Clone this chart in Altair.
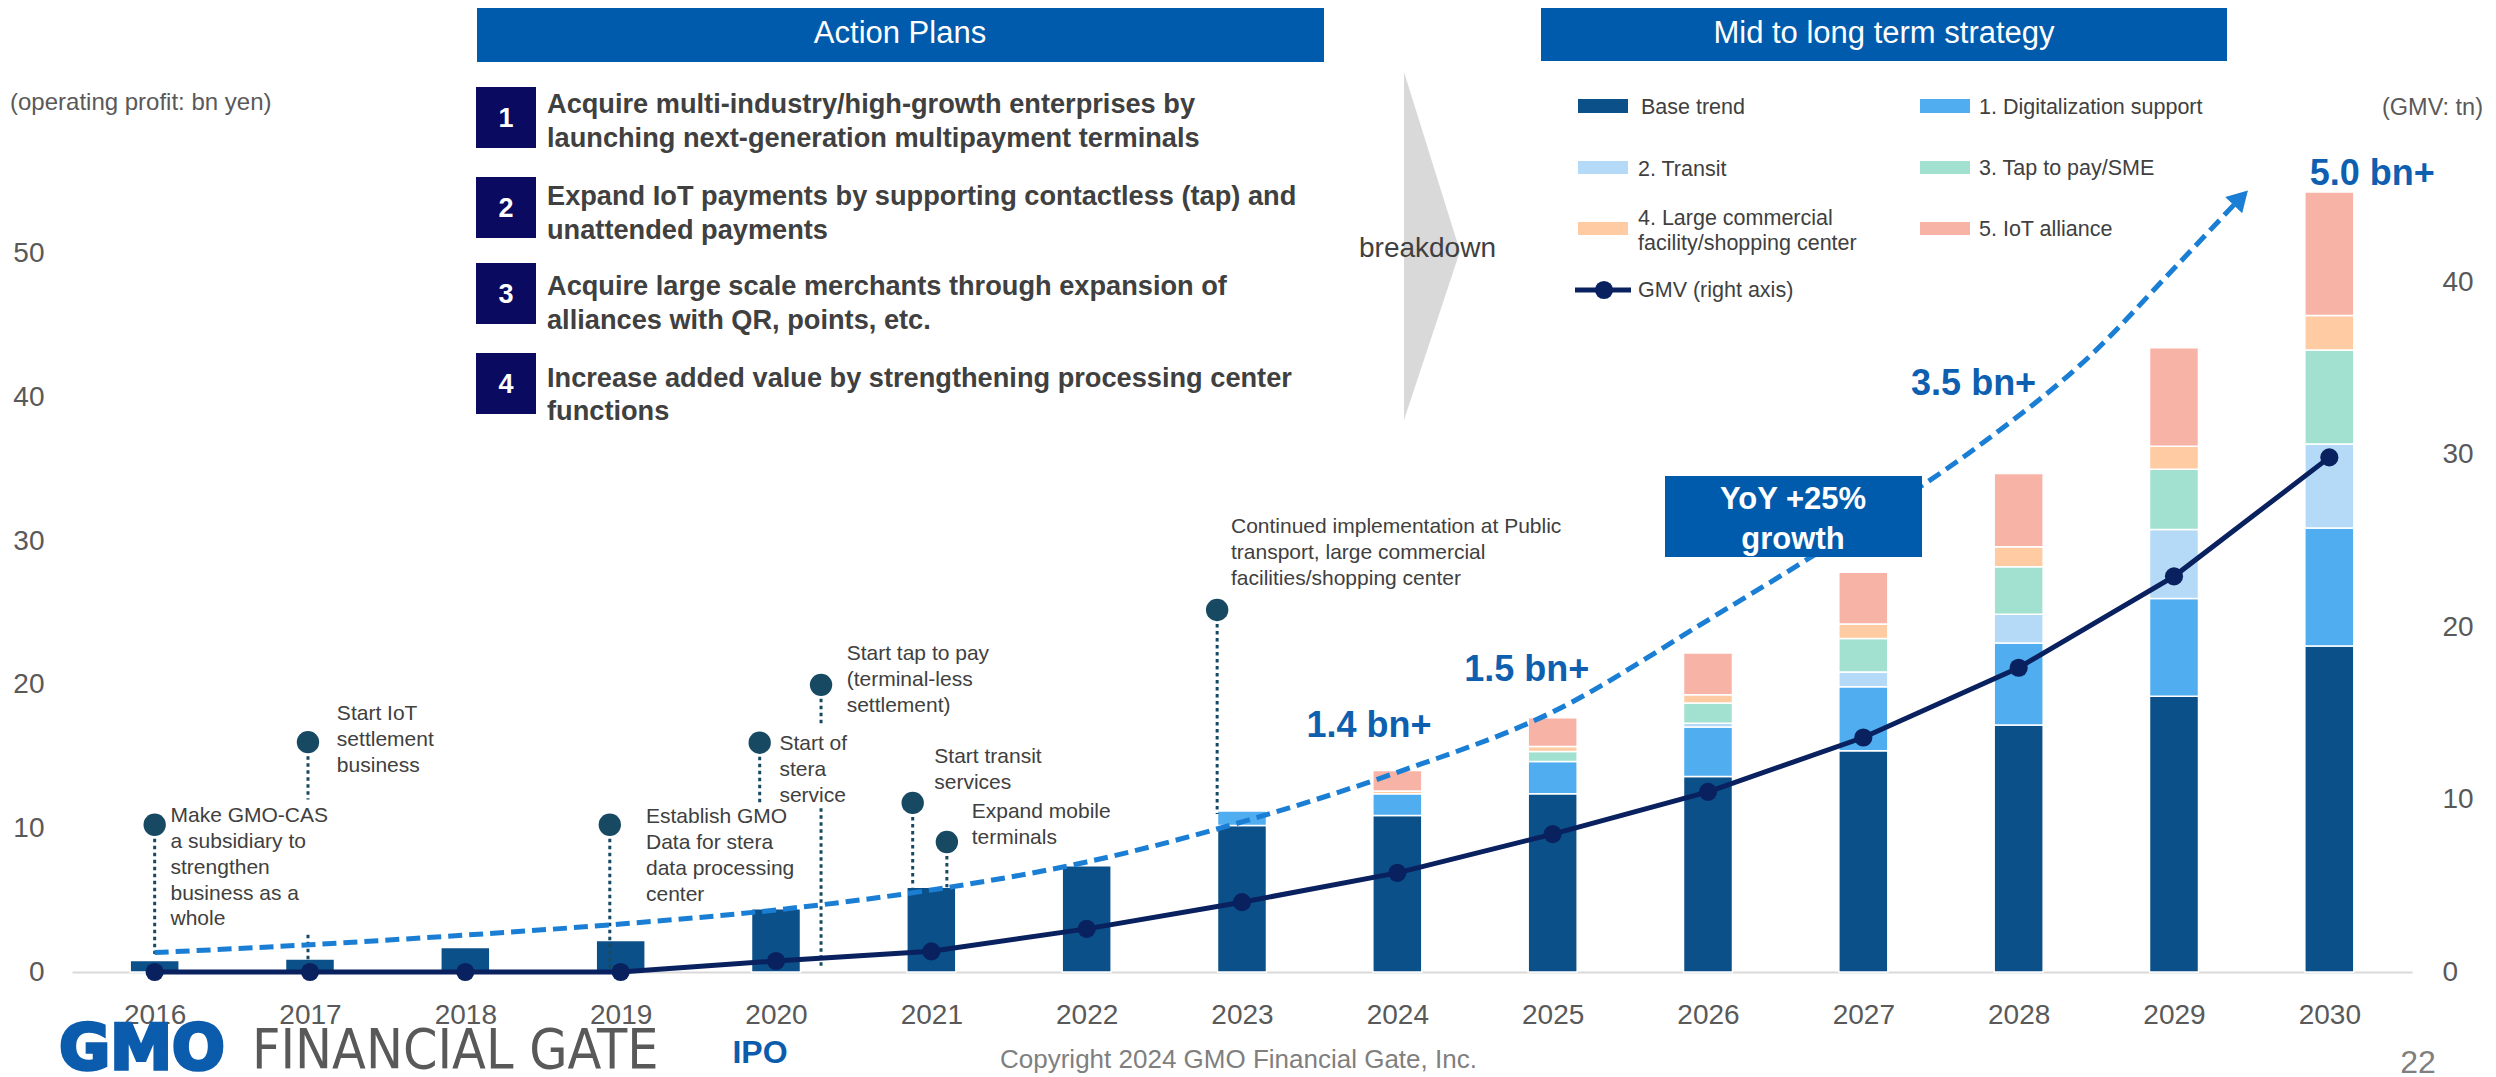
import altair as alt
import pandas as pd

# ---------------- data ----------------
years = list(range(2016, 2031))
segments = ["Base trend", "1. Digitalization support", "2. Transit", "3. Tap to pay/SME",
            "4. Large commercial facility/shopping center", "5. IoT alliance"]
base_trend       = [0.8, 0.9, 1.7, 2.2, 4.4, 5.9, 7.4, 10.2, 10.9, 12.4, 13.6, 15.4, 17.2, 19.2, 22.7]
digitalization   = [0, 0, 0, 0, 0, 0, 0, 1.0, 1.5, 2.25, 3.45, 4.45, 5.7, 6.8, 8.2]
transit          = [0, 0, 0, 0, 0, 0, 0, 0, 0, 0, 0.27, 1.04, 2.0, 4.8, 5.85]
tap_to_pay       = [0, 0, 0, 0, 0, 0, 0, 0, 0, 0.7, 1.4, 2.33, 3.3, 4.2, 6.55]
large_commercial = [0, 0, 0, 0, 0, 0, 0, 0, 0.2, 0.35, 0.58, 1.0, 1.4, 1.6, 2.4]
iot_alliance     = [0, 0, 0, 0, 0, 0, 0, 0, 1.43, 2.0, 2.9, 3.6, 5.1, 6.85, 8.6]
segment_values = [base_trend, digitalization, transit, tap_to_pay, large_commercial, iot_alliance]
segment_colors = ["#0B5088", "#4FADF0", "#B4DAF8", "#A2E1D0", "#FFCBA3", "#F8B3A7"]

gmv = [0, 0, 0, 0, 0.64, 1.2, 2.5, 4.05, 5.75, 8.0, 10.45, 13.6, 17.65, 22.95, 29.85]

left_ticks = [0, 10, 20, 30, 40, 50]
right_ticks = [0, 10, 20, 30, 40]

trend_years = [2016, 2017, 2018, 2019, 2020, 2021, 2022, 2023, 2024, 2025, 2026, 2027,
               2027.74, 2028.5, 2028.95, 2029.386]
trend_values = [1.35, 1.9, 2.57, 3.34, 4.32, 5.71, 7.66, 10.45, 13.9, 18.1, 24.5, 31.2,
                36.6, 43.3, 48.4, 53.4]
arrow_year = [2029.43]
arrow_value = [53.89]

growth_labels = ["1.4 bn+", "1.5 bn+", "3.5 bn+", "5.0 bn+"]
growth_years = [2023.817, 2024.833, 2027.71, 2030.276]
growth_values = [17.1, 21.0, 40.9, 55.55]

pin_years = [2016.0, 2016.987, 2018.93, 2019.895, 2020.29, 2020.88, 2021.10, 2022.84]
pin_values = [10.25, 16.0, 10.25, 15.96, 19.99, 11.77, 9.05, 25.2]
pin_texts = [
    "Make GMO-CAS\na subsidiary to\nstrengthen\nbusiness as a\nwhole",
    "Start IoT\nsettlement\nbusiness",
    "Establish GMO\nData for stera\ndata processing\ncenter",
    "Start of\nstera\nservice",
    "Start tap to pay\n(terminal-less\nsettlement)",
    "Start transit\nservices",
    "Expand mobile\nterminals",
    "Continued implementation at Public\ntransport, large commercial\nfacilities/shopping center",
]
pin_text_years = [2016.102, 2017.173, 2019.163, 2020.022, 2020.455, 2021.019, 2021.26, 2022.929]
pin_text_values = [11.59, 18.70, 11.52, 16.61, 22.88, 15.72, 11.91, 31.72]
stem_years = [2016.0, 2016.987, 2016.987, 2018.93, 2019.895, 2020.29, 2020.29, 2020.88, 2021.10, 2022.84]
stem_top = [10.25, 16.0, 2.6, 10.25, 15.96, 19.99, 11.4, 11.77, 9.05, 25.2]
stem_bottom = [1.25, 12.0, 0.1, 0.1, 11.8, 17.1, 0.3, 5.9, 5.9, 11.0]

action_numbers = ["1", "2", "3", "4"]
action_lines = [
    ["Acquire multi-industry/high-growth enterprises by", "launching next-generation multipayment terminals"],
    ["Expand IoT payments by supporting contactless (tap) and", "unattended payments"],
    ["Acquire large scale merchants through expansion of", "alliances with QR, points, etc."],
    ["Increase added value by strengthening processing center", "functions"],
]

# ---------------- layout / style ----------------
FONT = "Liberation Sans"
NAVY = "#0A2160"
PIN = "#174A62"
CURVE = "#1A7FD4"
HEADER = "#005BAC"
BN = "#0E5FB0"
NUMBOX = "#0A0A60"
TXT = "#404040"
GREY = "#595959"
LOGO = "#0B5CAD"

OX, OY = 72, 110          # page position of the plot origin
W, H = 2340, 862


def px(X):
    return X - OX


def py(Y):
    return Y - OY


one = pd.DataFrame({"k": [0]})


def box(X1, Y1, X2, Y2, color):
    return alt.Chart(one).mark_rect(color=color).encode(
        x=alt.value(px(X1)), x2=alt.value(px(X2)), y=alt.value(py(Y1)), y2=alt.value(py(Y2)))


def label(X, Y, text, size, color=TXT, weight="normal", align="left", baseline="middle",
          font=FONT, line_height=None, stroke_width=0):
    kw = dict(text=text, fontSize=size, color=color, fontWeight=weight, align=align,
              baseline=baseline, font=font)
    if line_height:
        kw["lineHeight"] = line_height
        kw["lineBreak"] = "\n"
    if stroke_width:
        kw["stroke"] = color
        kw["strokeWidth"] = stroke_width
    return alt.Chart(one).mark_text(**kw).encode(x=alt.value(px(X)), y=alt.value(py(Y)))


xscale = alt.Scale(domain=[2015.5, 2030.5], nice=False, zero=False)
lscale = alt.Scale(domain=[0, 60], nice=False, zero=True)
rscale = alt.Scale(domain=[0, 50], nice=False, zero=True)

xaxis = alt.Axis(values=years, format="d", title=None, grid=False, ticks=False, tickSize=0,
                 labelFontSize=28, labelFont=FONT, labelColor=GREY, labelPadding=29,
                 domainColor="#D9D9D9", domainWidth=2, labelFlush=False)
X = alt.X("year:Q", scale=xscale, axis=xaxis)

# ---------------- data tables ----------------
rows = []
for i, (name, vals) in enumerate(zip(segments, segment_values)):
    for yr, v in zip(years, vals):
        if v > 0:
            rows.append({"year": yr, "segment": name, "order": i, "value": v})
bars_df = pd.DataFrame(rows)
gmv_df = pd.DataFrame({"year": years, "gmv": gmv})
trend_df = pd.DataFrame({"year": trend_years, "val": trend_values})
arrow_df = pd.DataFrame({"year": arrow_year, "val": arrow_value})
growth_df = pd.DataFrame({"year": growth_years, "val": growth_values, "t": growth_labels})
pin_df = pd.DataFrame({"year": pin_years, "val": pin_values})
pintext_df = pd.DataFrame({"year": pin_text_years, "val": pin_text_values, "t": pin_texts})
stem_df = pd.DataFrame({"year": stem_years, "v1": stem_top, "v2": stem_bottom})

# ---------------- chart layers ----------------
bars = alt.Chart(bars_df).mark_bar(size=49, stroke="white", strokeWidth=1.5).encode(
    x=X,
    y=alt.Y("value:Q", stack="zero", scale=lscale,
            axis=alt.Axis(values=left_ticks, title=None, grid=False, ticks=False, domain=False,
                          labelFontSize=28, labelFont=FONT, labelColor=GREY, labelPadding=28)),
    color=alt.Color("segment:N", scale=alt.Scale(domain=segments, range=segment_colors), legend=None),
    order=alt.Order("order:Q", sort="ascending"),
)

stems = alt.Chart(stem_df).mark_rule(color=PIN, strokeWidth=3, strokeDash=[3.5, 3.5]).encode(
    x=X, y=alt.Y("v1:Q", scale=lscale, axis=None), y2="v2:Q")

trend = alt.Chart(trend_df).mark_line(color=CURVE, strokeWidth=5, strokeDash=[14, 7],
                                       interpolate="monotone").encode(
    x=X, y=alt.Y("val:Q", scale=lscale, axis=None))

arrow = alt.Chart(arrow_df).mark_point(shape="triangle-up", filled=True, size=560, angle=44,
                                        color=CURVE, opacity=1, strokeWidth=0).encode(
    x=X, y=alt.Y("val:Q", scale=lscale, axis=None))

gmv_line = alt.Chart(gmv_df).mark_line(color=NAVY, strokeWidth=5).encode(
    x=X,
    y=alt.Y("gmv:Q", scale=rscale,
            axis=alt.Axis(orient="right", values=right_ticks, title=None, grid=False, ticks=False,
                          domain=False, labelFontSize=28, labelFont=FONT, labelColor=GREY,
                          labelPadding=30)))
gmv_pts = alt.Chart(gmv_df).mark_circle(color=NAVY, size=330, opacity=1).encode(
    x=X, y=alt.Y("gmv:Q", scale=rscale, axis=None))

pins = alt.Chart(pin_df).mark_circle(color=PIN, size=500, opacity=1).encode(
    x=X, y=alt.Y("val:Q", scale=lscale, axis=None))
pin_labels = alt.Chart(pintext_df).mark_text(align="left", baseline="top", fontSize=21, font=FONT,
                                             color=TXT, lineBreak="\n", lineHeight=25.7).encode(
    x=X, y=alt.Y("val:Q", scale=lscale, axis=None), text="t:N")

growth = alt.Chart(growth_df).mark_text(align="center", baseline="middle", fontSize=36, font=FONT,
                                        fontWeight="bold", color=BN).encode(
    x=X, y=alt.Y("val:Q", scale=lscale, axis=None), text="t:N")

layers = [bars, stems, trend, arrow, gmv_line, gmv_pts, pins, pin_labels, growth]

# headers
layers += [box(477, 3, 1324, 62, HEADER), label(900, 34, "Action Plans", 31, "white", align="center"),
           box(1541, 3, 2227, 61, HEADER), label(1884, 34, "Mid to long term strategy", 31, "white", align="center")]

# action plan items
box_tops = [87, 177, 263, 353]
line_centers = [[103, 137], [195, 229], [285, 319], [377, 410]]
for n, top, lines, centers in zip(action_numbers, box_tops, action_lines, line_centers):
    layers.append(box(476, top, 536, top + 61, NUMBOX))
    layers.append(label(506, top + 32, n, 27, "white", weight="bold", align="center"))
    for ln, c in zip(lines, centers):
        layers.append(label(547, c + 1.5, ln, 27.2, TXT, weight="bold"))

# breakdown chevron
tri = alt.Chart(one).mark_point(shape="M-0.161,-1L0.161,0.03L-0.161,1Z", filled=True, size=121104,
                                color="#D9D9D9", opacity=1, strokeWidth=0).encode(
    x=alt.value(px(1432)), y=alt.value(py(246)))
layers += [tri, label(1359, 249, "breakdown", 28, TXT)]

# legend
sw = [(1578, 99, 1628, 113), (1920, 99, 1970, 113), (1578, 161, 1628, 174),
      (1920, 161, 1970, 174), (1578, 222, 1628, 235), (1920, 222, 1970, 235)]
for (a, b, c, d), col in zip(sw, segment_colors):
    layers.append(box(a, b, c, d, col))
layers += [
    label(1641, 108, "Base trend", 21.5, TXT),
    label(1979, 108, "1. Digitalization support", 21.5, TXT),
    label(1638, 170, "2. Transit", 21.5, TXT),
    label(1979, 169, "3. Tap to pay/SME", 21.5, TXT),
    label(1638, 219, "4. Large commercial\nfacility/shopping center", 21.5, TXT, line_height=25),
    label(1979, 230, "5. IoT alliance", 21.5, TXT),
    label(1638, 291, "GMV (right axis)", 21.5, TXT),
    alt.Chart(one).mark_rule(color=NAVY, strokeWidth=5).encode(
        x=alt.value(px(1575)), x2=alt.value(px(1631)), y=alt.value(py(290))),
    alt.Chart(one).mark_circle(color=NAVY, size=330, opacity=1).encode(
        x=alt.value(px(1604)), y=alt.value(py(290))),
]

# units
layers += [label(10, 103, "(operating profit: bn yen)", 24, GREY),
           label(2382, 108, "(GMV: tn)", 23.5, GREY)]

# YoY box
layers += [box(1665, 476, 1922, 557, HEADER),
           label(1793, 500, "YoY +25%", 31, "white", weight="bold", align="center"),
           label(1793, 540, "growth", 31, "white", weight="bold", align="center")]

# footer
layers += [label(142, 1050, "GMO", 62, LOGO, weight="bold", align="center", font="DejaVu Sans", stroke_width=3.5),
           label(252, 1051, "FINANCIAL GATE", 55, GREY,
                 font="Liberation Sans Narrow, DejaVu Sans Condensed, Liberation Sans"),
           label(760, 1053, "IPO", 32, LOGO, weight="bold", align="center"),
           label(1000, 1060, "Copyright 2024 GMO Financial Gate, Inc.", 26, "#7F7F7F"),
           label(2418, 1063, "22", 32, "#7F7F7F", align="center")]

chart = alt.layer(*layers).resolve_scale(y="independent").properties(
    width=W, height=H,
    padding={"left": OX - 8, "top": OY - 8, "right": 76, "bottom": 110},
    autosize=alt.AutoSizeParams(type="none"),
).configure_view(stroke=None, strokeWidth=0)

chart.save("out.html", embed_options={"renderer": "svg", "actions": False})
